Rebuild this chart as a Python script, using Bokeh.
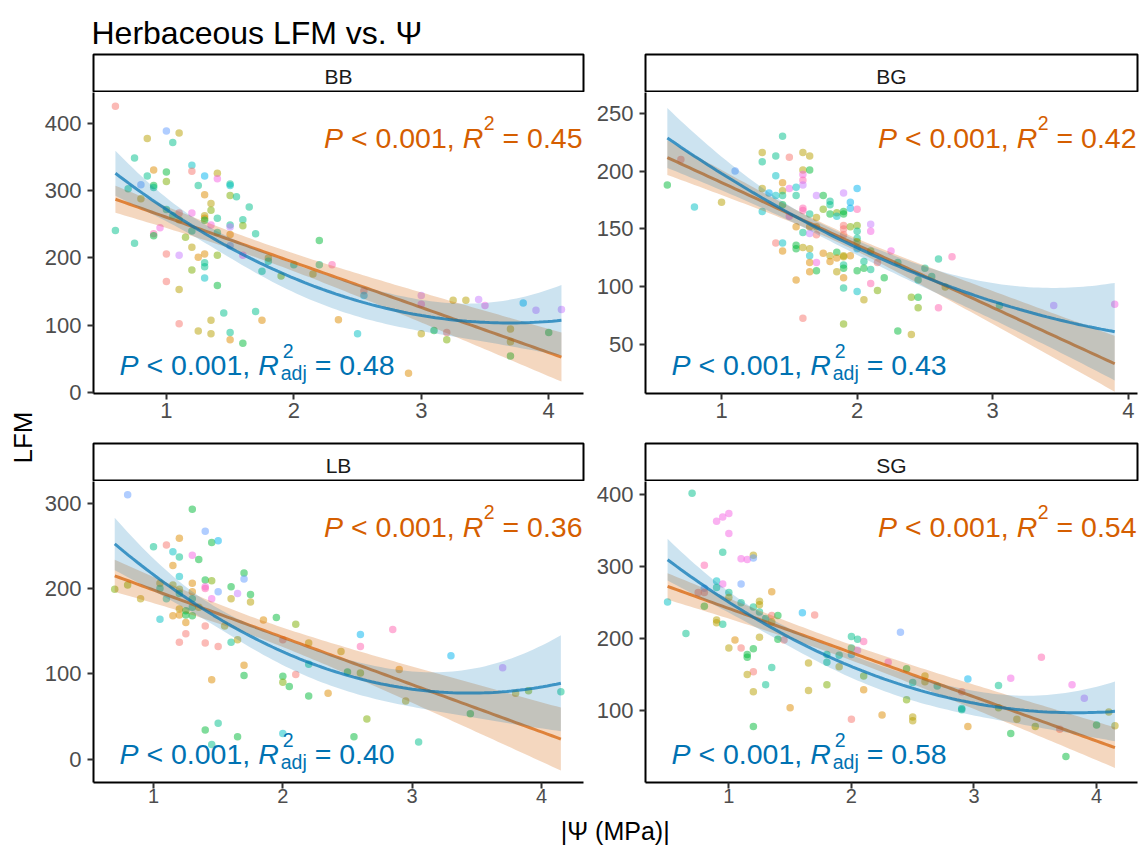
import numpy as np
from bokeh.plotting import figure
from bokeh.models import Range1d, FixedTicker
from bokeh.layouts import column, row
from bokeh.core.properties import value
from bokeh.embed import file_html
from bokeh.resources import INLINE

# ---------------- data ----------------
sites = ["BB", "BG", "LB", "SG"]
r2_lin = ["0.45", "0.42", "0.36", "0.54"]
r2_adj = ["0.48", "0.43", "0.40", "0.58"]

bb_x = [0.60,1.00,1.10,0.85,1.05,0.75,0.90,1.00,1.20,1.20,
        1.30,1.40,1.40,0.85,1.00,0.80,0.90,0.90,0.70,1.25,
        1.50,1.50,1.30,1.50,1.55,0.80,1.35,1.35,1.65,1.00,
        1.10,1.20,1.30,1.30,1.40,1.05,1.10,1.30,1.60,1.60,
        1.35,1.50,1.50,0.60,0.95,0.90,0.90,1.20,1.40,1.50,
        1.70,0.75,1.15,1.20,1.50,1.00,1.10,1.30,1.25,1.40,
        1.60,2.20,1.80,1.80,1.30,1.30,1.20,1.75,2.00,2.20,
        2.30,2.15,1.90,1.30,1.00,1.40,1.10,2.55,2.55,3.00,
        3.00,3.25,3.35,3.45,3.50,3.80,3.90,4.10,1.45,1.70,
        1.35,1.10,1.75,2.35,1.25,1.35,1.50,1.50,1.60,2.50,
        3.00,3.10,3.20,3.20,3.70,3.70,3.70,4.00,2.90]
bb_y = [426,389,386,378,372,349,331,328,338,329,
        322,326,318,322,314,309,308,305,303,308,
        310,308,294,293,291,288,281,271,276,272,
        267,267,263,259,259,263,257,256,257,248,
        249,249,246,241,245,236,233,240,238,235,
        236,222,231,216,218,206,204,206,201,204,
        204,226,200,195,193,187,182,180,190,190,
        190,176,173,170,165,159,153,151,144,144,
        131,137,137,138,129,133,122,123,118,120,
        107,102,107,108,91,87,89,78,73,87,
        87,92,89,78,94,75,54,89,28]
bb_g = ("sbvvttogcs" "kvmtybgttt" "tcoytvvytt" "smvottvgty" "mtptmngtto"
        "ttyvbspooy" "mgvtttyttt" "nvycsgvskp" "mvvpmkpptt" "vsoovvtogc" "vgsyvvggo")

bg_x = [0.70,0.60,0.80,1.10,1.00,1.45,1.30,1.30,1.40,1.50,
        1.60,1.65,1.60,1.65,1.40,1.60,1.60,1.60,1.30,1.45,
        1.45,1.50,1.55,1.35,1.40,1.45,1.55,1.70,1.75,1.90,
        2.00,1.95,1.95,2.00,1.80,1.80,1.75,1.30,1.45,1.60,
        1.60,1.65,1.70,1.80,1.85,1.85,1.90,1.90,1.50,1.55,
        1.65,1.70,1.70,1.60,1.65,1.90,1.90,1.90,1.95,2.00,
        2.00,2.00,2.10,2.10,1.40,1.45,1.45,1.55,1.55,1.60,
        1.65,1.65,1.65,1.70,1.75,1.80,1.80,1.85,1.85,1.90,
        1.95,2.00,2.00,2.10,1.90,1.90,1.90,1.70,1.65,1.85,
        1.90,2.00,2.05,2.05,2.10,2.15,2.20,1.55,1.90,2.00,
        2.10,2.15,2.05,2.25,2.30,2.50,2.45,2.40,2.45,2.45,
        2.55,2.60,2.70,2.65,2.60,1.60,1.90,2.30,2.40,3.05,
        3.45,3.90]
bg_y = [210,188,169,200,173,230,216,208,213,212,
        216,213,201,201,196,197,192,188,185,190,
        183,185,186,181,179,179,179,179,179,181,
        185,173,168,167,174,171,167,165,171,166,
        168,163,160,163,164,161,165,163,161,152,
        152,152,145,147,146,153,150,145,152,153,
        148,142,154,148,138,138,131,136,133,134,
        133,127,121,121,129,127,122,130,125,127,
        127,139,133,131,126,119,116,114,113,113,
        108,114,122,116,115,121,108,106,99,96,
        103,97,89,131,121,116,106,91,91,82,
        109,124,126,100,82,73,68,62,59,84,
        84,85]
bg_g = ("sgcbvtvtts" "vvvgcmnpvo" "vmckcttpgp" "kkknttycgn" "ntvgycggmo" "oostpsssyy"
        "ttpmscoggv" "vcomovogov" "oykyvtggov" "ogtgtsgotc" "nyvmtttygy" "ttnvnsygvt" "pm")

lb_x = [0.80,1.30,1.40,1.45,1.50,1.20,1.10,1.00,1.15,1.20,
        1.30,1.35,1.15,1.20,0.70,0.80,0.90,1.05,1.05,1.15,
        1.10,1.20,1.20,1.30,1.30,1.30,1.40,1.45,1.40,1.40,
        1.50,1.45,1.60,1.60,1.65,1.70,1.70,1.75,1.75,1.05,
        1.15,1.20,1.20,1.25,1.25,1.30,1.30,1.25,1.35,1.25,
        1.20,1.40,1.40,1.50,1.55,1.60,1.65,1.85,1.95,2.10,
        2.00,2.20,1.70,1.70,1.45,2.00,2.00,2.05,2.10,2.20,
        2.20,2.35,2.45,2.50,2.60,2.60,2.60,2.85,2.90,2.95,
        2.65,3.30,3.45,3.70,3.80,3.90,4.15,3.05,1.40,1.50,
        1.65,1.45,2.00,2.55]
lb_y = [310,293,267,254,256,259,251,249,243,237,
        239,234,227,214,199,204,188,206,200,204,
        188,199,194,206,196,188,210,209,202,200,
        196,188,202,188,194,218,211,193,184,164,
        168,176,169,174,169,178,168,160,178,147,
        137,156,136,132,156,137,140,163,166,158,
        140,136,110,98,93,97,90,85,99,111,
        74,77,126,102,146,132,101,152,105,68,
        47,121,53,107,77,80,79,20,34,42,
        26,17,30,26]
lb_g = ("bgbgkostct" "mgocyyvvtv" "cvtootgymn" "bmgvpgbgvc" "ovoggtgovs"
        "ssssvtvogy" "svogogygst" "govgknynov" "ykgpvyttgt" "gtcg")

sg_x = [0.70,1.00,0.95,0.90,1.00,0.95,1.10,1.15,1.20,1.20,
        0.80,0.90,0.95,0.90,1.10,1.00,0.80,0.75,0.80,0.50,
        1.00,1.10,0.80,1.20,1.25,1.25,1.25,1.35,1.30,1.35,
        1.40,1.35,0.90,0.90,0.95,0.65,1.05,1.25,1.00,1.10,
        1.20,1.15,1.15,1.40,1.45,1.20,1.15,1.35,1.30,1.20,
        1.20,1.50,1.60,1.70,1.65,1.65,1.80,1.80,1.80,1.90,
        1.90,2.00,2.05,2.10,2.00,2.05,2.00,2.10,2.10,2.00,
        2.25,2.30,2.40,2.45,2.45,2.50,2.50,2.50,2.60,2.60,
        2.70,2.90,2.90,2.90,2.95,2.95,3.20,3.20,3.30,3.35,
        3.30,3.50,3.55,3.70,3.75,3.80,3.90,4.00,4.10,4.15]
sg_y = [402,374,369,363,346,320,311,310,316,312,
        302,280,276,271,276,264,270,264,264,251,
        257,250,245,244,252,247,237,265,228,232,
        232,223,226,222,220,207,198,202,187,187,
        186,178,174,199,198,154,150,160,136,126,
        78,104,236,233,166,128,178,167,136,177,
        161,203,199,196,187,184,178,148,129,88,
        94,167,209,158,115,139,91,86,148,140,
        134,126,103,101,144,78,135,104,145,88,
        68,78,174,74,36,136,117,80,98,79]
sg_g = ("tmmmmtmmvb" "ncmtbtbssc" "vtgtvvtots" "gvvvttovvs" "ggggssvttv"
        "goksvvttyt" "vttntpkyos" "ombgytvvvv" "tsttkotymv" "gynsgmpgvv")

x_ticks = [1, 2, 3, 4]
bb_yticks = [0, 100, 200, 300, 400]
bg_yticks = [50, 100, 150, 200, 250]
lb_yticks = [0, 100, 200, 300]
sg_yticks = [100, 200, 300, 400]

# ---------------- style ----------------
FONT = "Liberation Sans"
PAL = {"s": "#F8766D", "o": "#DE8C00", "v": "#B79F00", "y": "#7CAE00",
       "g": "#00BA38", "t": "#00C08B", "c": "#00BFC4", "k": "#00B4F0",
       "b": "#619CFF", "p": "#C77CFF", "m": "#F564E3", "n": "#FF64B0"}
ORANGE = "#D55E00"
BLUE = "#0072B2"
FH = 301

AW = {' ': 278, '<': 584, '0': 556, '1': 556, '2': 556, '3': 556, '4': 556, '5': 556,
      '6': 556, '7': 556, '8': 556, '9': 556, '.': 278, ',': 278, '=': 584,
      'a': 556, 'd': 556, 'j': 222, 'P': 667, 'R': 722}


def tw(s, size):
    return sum(AW.get(c, 556) for c in s) * size / 1000.0


def fit_band(x, y, deg, xs):
    x = np.asarray(x, float)
    y = np.asarray(y, float)
    X = np.vander(x, deg + 1, increasing=True)
    beta, *_ = np.linalg.lstsq(X, y, rcond=None)
    resid = y - X @ beta
    dof = len(x) - (deg + 1)
    s2 = resid @ resid / dof
    XtXi = np.linalg.inv(X.T @ X)
    Xs = np.vander(xs, deg + 1, increasing=True)
    yhat = Xs @ beta
    se = np.sqrt(np.einsum('ij,jk,ik->i', Xs, XtXi, Xs) * s2)
    t = 1.96 + 2.4 / dof
    return yhat, yhat - t * se, yhat + t * se


def put(p, xr, yr, fw, px, py, s, size, color, style="normal", align="left"):
    xd = xr[0] + px * (xr[1] - xr[0]) / fw
    yd = yr[1] - py * (yr[1] - yr[0]) / FH
    p.text(x=[xd], y=[yd], text=[s], text_font=value(FONT), text_font_size=f"{size}px",
           text_color=color, text_font_style=style, text_align=align,
           text_baseline="alphabetic")


def annotate(p, xr, yr, fw, r2l, r2a):
    F, FS = 28.5, 19.5
    sp = tw(" ", F)
    total = tw("P", F) + sp + tw("< 0.001,", F) + sp + tw("R", F) + tw("2", FS) + sp + tw("= " + r2l, F)
    x0 = fw - 1.5 - total
    yb = 45
    put(p, xr, yr, fw, x0, yb, "P", F, ORANGE, "italic"); x0 += tw("P", F) + sp
    put(p, xr, yr, fw, x0, yb, "< 0.001,", F, ORANGE); x0 += tw("< 0.001,", F) + sp
    put(p, xr, yr, fw, x0, yb, "R", F, ORANGE, "italic"); x0 += tw("R", F) + 0.5
    put(p, xr, yr, fw, x0, yb - 15, "2", FS, ORANGE); x0 += tw("2", FS) + sp
    put(p, xr, yr, fw, x0, yb, "= " + r2l, F, ORANGE)
    x0 = 26
    yb = FH - 28.5
    put(p, xr, yr, fw, x0, yb, "P", F, BLUE, "italic"); x0 += tw("P", F) + sp
    put(p, xr, yr, fw, x0, yb, "< 0.001,", F, BLUE); x0 += tw("< 0.001,", F) + sp
    put(p, xr, yr, fw, x0, yb, "R", F, BLUE, "italic"); x0 += tw("R", F) + 2
    put(p, xr, yr, fw, x0 + 2, yb - 14, "2", FS, BLUE)
    put(p, xr, yr, fw, x0, yb + 7.5, "adj", FS, BLUE); x0 += tw("adj", FS) + sp
    put(p, xr, yr, fw, x0, yb, "= " + r2a, F, BLUE)


def bare(fw, fh, xr, yr, bl=0, br=0, bt=0, bb=0):
    p = figure(frame_width=fw, frame_height=fh, x_range=Range1d(*xr), y_range=Range1d(*yr),
               output_backend="svg", toolbar_location=None, title_location=None,
               x_axis_location=None, y_axis_location=None,
               min_border_left=bl, min_border_right=br, min_border_top=bt, min_border_bottom=bb)
    p.xgrid.visible = False
    p.ygrid.visible = False
    p.outline_line_color = None
    p.background_fill_color = "white"
    p.border_fill_color = "white"
    return p


def strip(label, fw, bl, br):
    p = bare(fw, 37, (0, 1), (0, 1), bl, br, 1, 1)
    p.outline_line_color = "black"
    p.outline_line_width = 2
    p.text(x=[0.5], y=[0.40], text=[label], text_align="center", text_baseline="alphabetic",
           text_font=value(FONT), text_font_size="21px", text_color="#1A1A1A")
    return p


def panel(xr, yr, yticks, fw, bl, br, bb, xs, ys, gs, r2l, r2a, xfs, xso):
    p = figure(frame_width=fw, frame_height=FH, x_range=Range1d(*xr), y_range=Range1d(*yr),
               output_backend="svg", toolbar_location=None, title_location=None,
               min_border_left=bl, min_border_right=br, min_border_top=0, min_border_bottom=bb)
    p.xgrid.visible = False
    p.ygrid.visible = False
    p.outline_line_color = None
    p.background_fill_color = "white"
    p.border_fill_color = "white"
    for ax in (p.xaxis[0], p.yaxis[0]):
        ax.axis_line_color = "black"
        ax.axis_line_width = 2
        ax.major_tick_line_color = "#333333"
        ax.major_tick_line_width = 2
        ax.major_tick_in = 0
        ax.major_tick_out = 6
        ax.minor_tick_line_color = None
        ax.major_label_text_font = FONT
        ax.major_label_text_font_size = "22px"
        ax.major_label_text_color = "#4D4D4D"
    p.xaxis.major_label_text_font_size = xfs
    p.xaxis.ticker = FixedTicker(ticks=x_ticks)
    p.yaxis.ticker = FixedTicker(ticks=yticks)
    p.yaxis.major_label_standoff = 6
    p.xaxis.major_label_standoff = xso

    cols = [PAL[c] for c in gs]
    p.scatter(xs, ys, size=7.5, fill_color=cols, fill_alpha=0.5, line_color=None)

    xg = np.linspace(min(xs), max(xs), 100)
    yl, ll, hl = fit_band(xs, ys, 1, xg)
    yq, lq, hq = fit_band(xs, ys, 2, xg)
    p.varea(x=xg, y1=ll, y2=hl, fill_color=ORANGE, fill_alpha=0.25)
    p.line(xg, yl, line_color=ORANGE, line_alpha=0.7, line_width=3)
    p.varea(x=xg, y1=lq, y2=hq, fill_color=BLUE, fill_alpha=0.2)
    p.line(xg, yq, line_color=BLUE, line_alpha=0.7, line_width=3)
    annotate(p, xr, yr, fw, r2l, r2a)
    return p


assert len(bb_x) == len(bb_y) == len(bb_g)
assert len(bg_x) == len(bg_y) == len(bg_g)
assert len(lb_x) == len(lb_y) == len(lb_g)
assert len(sg_x) == len(sg_y) == len(sg_g)

LW, RW = 490, 492
LBL, LBR = 57, 5
RBL, RBR = 57, 11
BOT_B = 30

s_bb = strip(sites[0], LW, LBL, LBR)
s_bg = strip(sites[1], RW, RBL, RBR)
s_lb = strip(sites[2], LW, LBL, LBR)
s_sg = strip(sites[3], RW, RBL, RBR)

p_bb = panel((0.428, 4.273), (-2.0, 446.5), bb_yticks, LW, LBL, LBR, 49, bb_x, bb_y, bb_g,
             r2_lin[0], r2_adj[0], "22px", 3)
p_bg = panel((0.439, 4.068), (8.0, 267.8), bg_yticks, RW, RBL, RBR, 49, bg_x, bg_y, bg_g,
             r2_lin[1], r2_adj[1], "22px", 3)
p_lb = panel((0.536, 4.325), (-27.5, 325.4), lb_yticks, LW, LBL, LBR, BOT_B, lb_x, lb_y, lb_g,
             r2_lin[2], r2_adj[2], "20px", 0)
p_sg = panel((0.320, 4.334), (0.0, 418.4), sg_yticks, RW, RBL, RBR, BOT_B, sg_x, sg_y, sg_g,
             r2_lin[3], r2_adj[3], "20px", 0)

# title
t_fig = bare(1148, 53, (0, 1148), (0, 53))
t_fig.text(x=[91], y=[21], text=["Herbaceous LFM vs. Ψ"], text_font=value(FONT),
           text_font_size="32px", text_color="black", text_baseline="alphabetic")

# y label
MID_H = 39 + 350 + 39 + FH + BOT_B
yl_fig = bare(36, MID_H, (0, 36), (0, MID_H))
yl_fig.text(x=[22], y=[MID_H - 384], text=["LFM"], angle=np.pi / 2, text_align="center",
            text_baseline="middle", text_font=value(FONT), text_font_size="26px", text_color="black")

# x label
XL_H = 849 - 53 - MID_H
xl_fig = bare(1148, XL_H, (0, 1148), (0, XL_H))
xl_fig.text(x=[614.7], y=[XL_H / 2], text=["|Ψ (MPa)|"], text_align="center", text_baseline="middle",
            text_font=value(FONT), text_font_size="25px", text_color="black")

grid = column(row(s_bb, s_bg), row(p_bb, p_bg), row(s_lb, s_sg), row(p_lb, p_sg))
layout = column(t_fig, row(yl_fig, grid), xl_fig)

open("out.html", "w").write(file_html(layout, INLINE))
